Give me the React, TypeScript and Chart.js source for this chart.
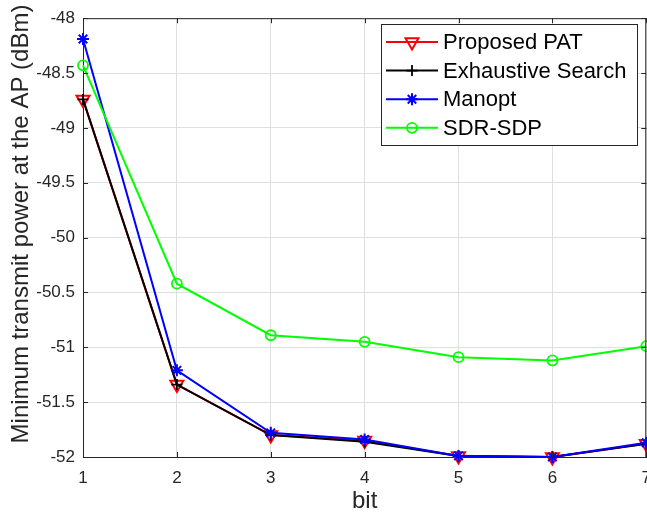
import React, { useEffect, useRef } from 'react';
import { Chart, registerables } from 'chart.js';

Chart.register(...registerables);

// ---- data ----
const bits = [1, 2, 3, 4, 5, 6, 7];
const proposedPAT = [-48.74, -51.34, -51.8, -51.85, -51.99, -52.0, -51.88];
const exhaustiveSearch = [-48.74, -51.34, -51.8, -51.86, -51.99, -52.0, -51.88];
const manopt = [-48.19, -51.21, -51.78, -51.84, -51.99, -52.0, -51.87];
const sdrSdp = [-48.43, -50.42, -50.89, -50.95, -51.09, -51.12, -50.99];
const seriesLabels = ['Proposed PAT', 'Exhaustive Search', 'Manopt', 'SDR-SDP'];
const xTickValues = [1, 2, 3, 4, 5, 6, 7];
const yTickValues = [-52, -51.5, -51, -50.5, -50, -49.5, -49, -48.5, -48];
const xTitle = 'bit';
const yTitle = 'Minimum transmit power at the AP (dBm)';

const FONT = "'Liberation Sans', Arial, Helvetica, sans-serif";
const AXIS = '#262626';

type Style = { color: string; point: string; radius: number; rotation: number; width: number };
const styles: Style[] = [
  { color: '#ff0000', point: 'triangle', radius: 7.5, rotation: 180, width: 2 },
  { color: '#000000', point: 'cross', radius: 5.5, rotation: 0, width: 1.8 },
  { color: '#0000ff', point: 'star', radius: 6, rotation: 0, width: 2 },
  { color: '#00ff00', point: 'circle', radius: 5, rotation: 0, width: 1.8 },
];
const seriesValues = [proposedPAT, exhaustiveSearch, manopt, sdrSdp];

function drawMarker(ctx: CanvasRenderingContext2D, s: Style, x: number, y: number) {
  const r = s.radius;
  ctx.save();
  ctx.strokeStyle = s.color;
  ctx.lineWidth = s.width;
  ctx.beginPath();
  if (s.point === 'triangle') {
    const h = r * Math.sin(Math.PI / 3);
    ctx.moveTo(x, y + r);
    ctx.lineTo(x - h, y - r / 2);
    ctx.lineTo(x + h, y - r / 2);
    ctx.closePath();
  } else if (s.point === 'cross') {
    ctx.moveTo(x, y - r); ctx.lineTo(x, y + r);
    ctx.moveTo(x - r, y); ctx.lineTo(x + r, y);
  } else if (s.point === 'star') {
    const d = r * Math.SQRT1_2;
    ctx.moveTo(x, y - r); ctx.lineTo(x, y + r);
    ctx.moveTo(x - r, y); ctx.lineTo(x + r, y);
    ctx.moveTo(x - d, y - d); ctx.lineTo(x + d, y + d);
    ctx.moveTo(x - d, y + d); ctx.lineTo(x + d, y - d);
  } else {
    ctx.arc(x, y, r, 0, Math.PI * 2);
  }
  ctx.stroke();
  ctx.restore();
}

const framePlugin = {
  id: 'matlabFrame',
  afterDatasetsDraw(chart: any) {
    const { ctx, chartArea } = chart;
    const { left, right, top, bottom } = chartArea;
    const xs = chart.scales.x;
    const ys = chart.scales.y;
    const tl = 5;
    ctx.save();
    ctx.strokeStyle = AXIS;
    ctx.lineWidth = 1;
    ctx.beginPath();
    ctx.moveTo(left, top + 0.5); ctx.lineTo(right, top + 0.5);
    ctx.moveTo(right - 0.5, top); ctx.lineTo(right - 0.5, bottom);
    xTickValues.forEach((v) => {
      const px = Math.round(xs.getPixelForValue(v)) + 0.5;
      ctx.moveTo(px, bottom); ctx.lineTo(px, bottom - tl);
      ctx.moveTo(px, top); ctx.lineTo(px, top + tl);
    });
    yTickValues.forEach((v) => {
      const py = Math.round(ys.getPixelForValue(v)) + 0.5;
      ctx.moveTo(left, py); ctx.lineTo(left + tl, py);
      ctx.moveTo(right, py); ctx.lineTo(right - tl, py);
    });
    ctx.stroke();
    ctx.restore();
  },
  afterDraw(chart: any) {
    const { ctx } = chart;
    // y-axis title
    ctx.save();
    ctx.translate(21.5, 224);
    ctx.rotate(-Math.PI / 2);
    ctx.font = `24px ${FONT}`;
    ctx.fillStyle = AXIS;
    ctx.textAlign = 'center';
    ctx.textBaseline = 'middle';
    ctx.fillText(yTitle, 0, 0);
    ctx.restore();
    // legend box
    const bx = 381.5, by = 24.5, bw = 256, bh = 121;
    ctx.save();
    ctx.fillStyle = '#ffffff';
    ctx.fillRect(bx, by, bw, bh);
    ctx.strokeStyle = AXIS;
    ctx.lineWidth = 1;
    ctx.strokeRect(bx, by, bw, bh);
    ctx.font = `22px ${FONT}`;
    ctx.textBaseline = 'middle';
    ctx.textAlign = 'left';
    seriesLabels.forEach((label, i) => {
      const s = styles[i];
      const cy = 42 + 28.6 * i;
      ctx.strokeStyle = s.color;
      ctx.lineWidth = 2;
      ctx.beginPath();
      ctx.moveTo(386, cy); ctx.lineTo(438, cy);
      ctx.stroke();
      drawMarker(ctx, s, 412, cy);
      ctx.fillStyle = '#000000';
      ctx.fillText(label, 443, cy + 1);
    });
    ctx.restore();
  },
};

export default function App() {
  const ref = useRef<HTMLCanvasElement | null>(null);
  useEffect(() => {
    if (!ref.current) return;
    const datasets = seriesLabels.map((label, i) => ({
      label,
      data: bits.map((b, j) => ({ x: b, y: seriesValues[i][j] })),
      borderColor: styles[i].color,
      backgroundColor: 'rgba(0,0,0,0)',
      borderWidth: 2,
      pointStyle: styles[i].point,
      pointRadius: styles[i].radius,
      pointRotation: styles[i].rotation,
      pointBorderColor: styles[i].color,
      pointBackgroundColor: 'rgba(0,0,0,0)',
      pointBorderWidth: styles[i].width,
      tension: 0,
      clip: false as any,
      order: seriesLabels.length - i,
    }));
    const chart = new Chart(ref.current, {
      type: 'line',
      data: { datasets },
      options: {
        animation: false,
        responsive: false,
        maintainAspectRatio: false,
        devicePixelRatio: 1,
        layout: { padding: { left: 0, top: 11, right: 11, bottom: 0 } },
        plugins: { legend: { display: false }, tooltip: { enabled: false } },
        scales: {
          x: {
            type: 'linear',
            min: 1,
            max: 7,
            afterBuildTicks: (s: any) => { s.ticks = xTickValues.map((v) => ({ value: v })); },
            afterFit: (s: any) => { s.height = 59; },
            ticks: {
              padding: 11,
              color: AXIS,
              font: { family: FONT, size: 17 },
              maxRotation: 0,
              callback: (v: any) => String(v),
            },
            grid: { color: '#dfdfdf', lineWidth: 1, drawTicks: false },
            border: { color: AXIS, width: 1 },
            title: {
              display: true,
              text: xTitle,
              color: AXIS,
              font: { family: FONT, size: 24, lineHeight: 1.2 },
              padding: { top: 0, bottom: 0 },
            },
          },
          y: {
            type: 'linear',
            min: -52,
            max: -48,
            afterBuildTicks: (s: any) => { s.ticks = yTickValues.map((v) => ({ value: v })); },
            afterFit: (s: any) => { s.width = 83; },
            ticks: {
              padding: 8,
              color: AXIS,
              font: { family: FONT, size: 17 },
              callback: (v: any) => String(v),
            },
            grid: { color: '#dfdfdf', lineWidth: 1, drawTicks: false },
            border: { color: AXIS, width: 1 },
            title: { display: false },
          },
        },
      },
      plugins: [framePlugin],
    });
    return () => chart.destroy();
  }, []);
  return (
    <div style={{ position: 'fixed', left: 0, top: 0, width: 647, height: 516, overflow: 'hidden', background: '#ffffff' }}>
      <canvas ref={ref} width={662} height={516} style={{ display: 'block', width: 662, height: 516 }} />
    </div>
  );
}
